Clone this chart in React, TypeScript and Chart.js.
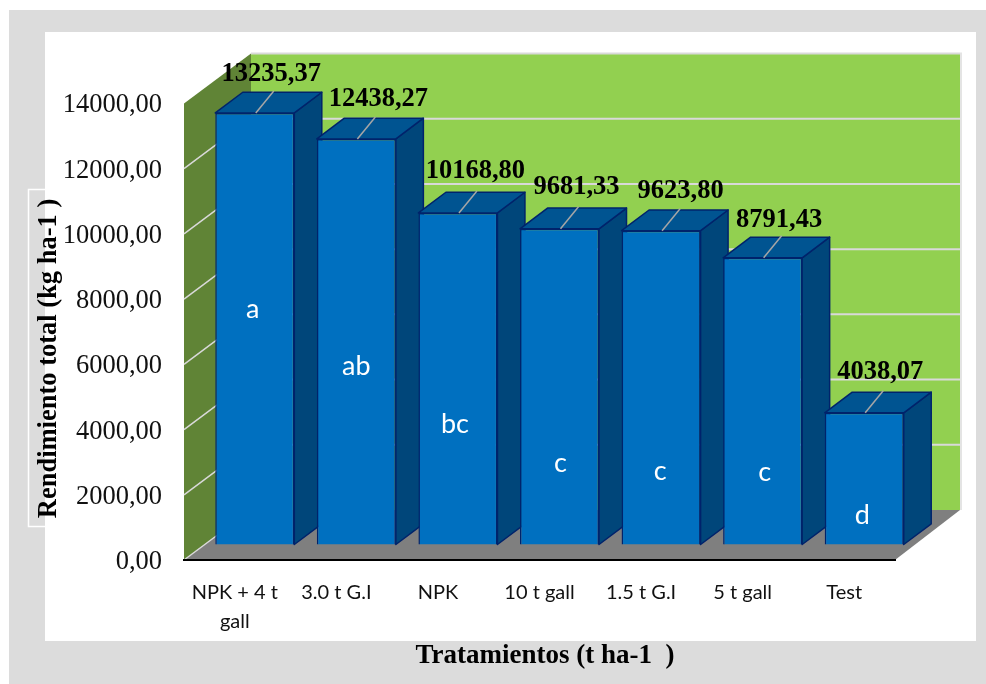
import React, { useEffect, useRef } from "react";
import { Chart, registerables } from "chart.js";

Chart.register(...registerables);

const categories = [["NPK + 4 t", "gall"], "3.0 t G.I", "NPK", "10 t gall", "1.5 t G.I", "5 t gall", "Test"];
const yields = [13235.37, 12438.27, 10168.8, 9681.33, 9623.8, 8791.43, 4038.07];
const groups = ["a", "ab", "bc", "c", "c", "c", "d"];
// Height on the value axis where each significance letter sits inside its bar.
const groupHeights = [7220, 5460, 3680, 2480, 2260, 2220, 910];
const yTicks = [0, 2000, 4000, 6000, 8000, 10000, 12000, 14000];
const yTitle = "Rendimiento total (kg ha-1 )";
const xTitle = "Tratamientos (t ha-1  )";

// Hand placement of the text over each bar, relative to the bar's front face.
const valueLabelShiftX = [16.5, 22, 17.5, 17, 19.5, 16.5, 16];
const valueLabelShiftY = [-39, -40, -41.5, -42, -40, -38, -40.5];
const groupShiftX = [-2, 0, -3, 1, -1, 2, -2];

const SERIF = '"Liberation Serif"';
const SANS = "Lato";

// Oblique projection used for the walls, floor and boxes.
const WALL = { dx: 67, dy: -50 };
const FRONT = { dx: 20, dy: -15.5 };
const DEPTH = { dx: 27.5, dy: -20.7 };

const decimal = (v: number) => v.toFixed(2).replace(".", ",");

function poly(ctx: CanvasRenderingContext2D, pts: number[][], fill: string, stroke?: string, lw = 1) {
  ctx.beginPath();
  pts.forEach(([x, y], i) => (i ? ctx.lineTo(x, y) : ctx.moveTo(x, y)));
  ctx.closePath();
  ctx.fillStyle = fill;
  ctx.fill();
  if (stroke) {
    ctx.strokeStyle = stroke;
    ctx.lineWidth = lw;
    ctx.lineJoin = "round";
    ctx.stroke();
  }
}

function segment(ctx: CanvasRenderingContext2D, x0: number, y0: number, x1: number, y1: number, color: string, lw: number) {
  ctx.beginPath();
  ctx.moveTo(x0, y0);
  ctx.lineTo(x1, y1);
  ctx.strokeStyle = color;
  ctx.lineWidth = lw;
  ctx.stroke();
}

function text(ctx: CanvasRenderingContext2D, s: string, x: number, y: number, font: string, color: string) {
  ctx.font = font;
  ctx.fillStyle = color;
  ctx.textAlign = "center";
  ctx.textBaseline = "middle";
  ctx.fillText(s, x, y);
}

const scene3d = {
  id: "scene3d",
  beforeDraw(chart: any) {
    const { ctx, chartArea: a, scales } = chart;
    const y = scales.y;
    ctx.save();
    // Page frame
    ctx.fillStyle = "#DCDCDC";
    ctx.fillRect(9, 10, 977, 674);
    ctx.fillStyle = "#FFFFFF";
    ctx.fillRect(45, 32, 931, 609);
    ctx.strokeStyle = "#FFFFFF";
    ctx.lineWidth = 1.5;
    ctx.strokeRect(28.5, 189.5, 20, 337);

    // Walls and floor
    const top = y.getPixelForValue(14000);
    const zero = y.getPixelForValue(0);
    const backL = a.left + WALL.dx;
    const backR = a.right + WALL.dx - 2;
    poly(ctx, [[backL, top + WALL.dy], [backR, top + WALL.dy], [backR, zero + WALL.dy], [backL, zero + WALL.dy]], "#92D050");
    poly(ctx, [[a.left, zero], [a.left, top], [backL, top + WALL.dy], [backL, zero + WALL.dy]], "#608436");
    poly(ctx, [[a.left, zero], [a.right, zero], [backR, zero + WALL.dy], [backL, zero + WALL.dy]], "#7F7F7F");

    // Gridlines wrap around the side wall and run across the back wall
    for (const v of yTicks) {
      const py = y.getPixelForValue(v);
      if (v !== 14000) segment(ctx, a.left, py, backL, py + WALL.dy, "#D9D9D9", 1.5);
      if (v !== 0) segment(ctx, backL, py + WALL.dy, backR, py + WALL.dy, "#D9D9D9", 2);
    }
    segment(ctx, backR + 1, top + WALL.dy - 1, backR + 1, zero + WALL.dy, "#E4E4E4", 2);
    ctx.restore();
  },
  beforeDatasetDraw(chart: any) {
    const { ctx } = chart;
    const bars = chart.getDatasetMeta(0).data;
    ctx.save();
    ctx.translate(FRONT.dx, FRONT.dy);
    // Side and top faces go down first; the library then paints the front faces over them.
    bars.forEach((bar: any) => {
      const l = bar.x - bar.width / 2;
      const r = bar.x + bar.width / 2;
      const t = bar.y;
      const b = bar.base;
      poly(ctx, [[r, t], [r + DEPTH.dx, t + DEPTH.dy], [r + DEPTH.dx, b + DEPTH.dy], [r, b]], "#00467A", "#00236B", 1.5);
      poly(ctx, [[l, t], [l + DEPTH.dx, t + DEPTH.dy], [r + DEPTH.dx, t + DEPTH.dy], [r, t]], "#005491", "#00236B", 1.5);
    });
  },
  afterDatasetDraw(chart: any) {
    chart.ctx.restore();
  },
  afterDraw(chart: any) {
    const { ctx, scales } = chart;
    const bars = chart.getDatasetMeta(0).data;
    ctx.save();
    bars.forEach((bar: any, i: number) => {
      const cx = bar.x + FRONT.dx;
      const ty = bar.y + FRONT.dy;
      segment(ctx, cx + 1, ty, cx + 19, ty - 22, "#A6A6A6", 1.5);
      text(ctx, decimal(yields[i]), cx + valueLabelShiftX[i], ty + valueLabelShiftY[i], `bold 26.5px ${SERIF}`, "#000000");
      const gy = scales.y.getPixelForValue(groupHeights[i]) + FRONT.dy;
      text(ctx, groups[i], cx + groupShiftX[i], gy, `27px ${SANS}`, "#FFFFFF");
    });
    text(ctx, xTitle, 545, 656.5, `bold 27px ${SERIF}`, "#000000");
    ctx.translate(49, 358.5);
    ctx.rotate(-Math.PI / 2);
    text(ctx, yTitle, 0, 0, `bold 26.5px ${SERIF}`, "#000000");
    ctx.restore();
  },
};

export default function App() {
  const ref = useRef<HTMLCanvasElement>(null);

  useEffect(() => {
    const chart = new Chart(ref.current!, {
      type: "bar",
      data: {
        labels: categories as any,
        datasets: [
          {
            data: yields,
            backgroundColor: "#0070C0",
            borderColor: "#00236B",
            borderWidth: 1.5,
            barPercentage: 0.778,
            categoryPercentage: 1,
            clip: false as any,
          },
        ],
      },
      options: {
        responsive: false,
        animation: false,
        devicePixelRatio: 1,
        layout: { autoPadding: false, padding: { top: 103.5, right: 91, left: 0, bottom: 0 } },
        plugins: { legend: { display: false }, tooltip: { enabled: false }, title: { display: false } },
        scales: {
          x: {
            grid: { display: false },
            border: { display: true, color: "#000000", width: 2 },
            afterFit(s: any) {
              s.height = 124;
            },
            ticks: {
              color: "#111111",
              padding: 10,
              maxRotation: 0,
              autoSkip: false,
              font: { family: SANS, size: 20, lineHeight: 1.45 },
            },
          },
          y: {
            min: 0,
            max: 14000,
            grid: { display: false },
            border: { display: false },
            afterFit(s: any) {
              s.width = 184;
            },
            afterBuildTicks(s: any) {
              s.ticks = yTicks.map((value) => ({ value }));
            },
            ticks: {
              color: "#111111",
              padding: 14,
              labelOffset: 2,
              font: { family: SERIF, size: 26.5 },
              callback: (v: any) => decimal(Number(v)),
            },
          },
        },
      },
      plugins: [scene3d],
    } as any);
    return () => chart.destroy();
  }, []);

  return (
    <div style={{ position: "absolute", left: 0, top: 0, width: 986, height: 684 }}>
      <canvas ref={ref} width={986} height={684} style={{ display: "block" }} />
    </div>
  );
}
